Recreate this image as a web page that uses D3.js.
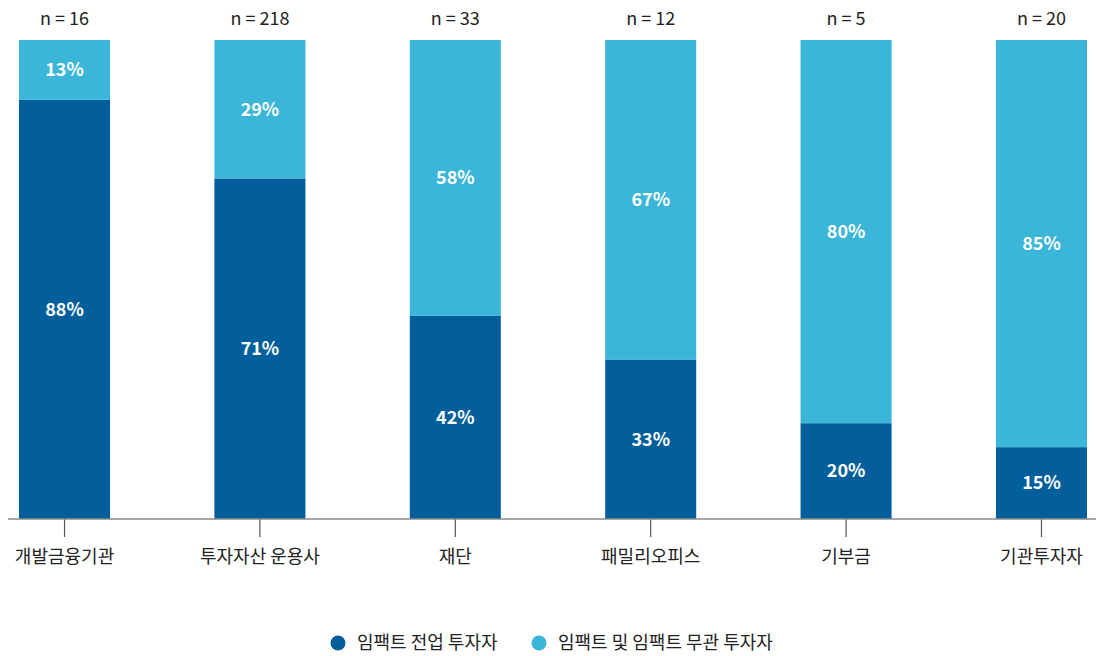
<!DOCTYPE html>
<html><head><meta charset="utf-8">
<script src="https://cdn.jsdelivr.net/npm/d3@7"></script>
<style>body{margin:0;background:#fff}svg{display:block;font-family:"Noto Sans CJK KR","Noto Sans",sans-serif}</style>
</head><body><svg id="c" width="1096" height="656"></svg>
<script>
const categories = ["개발금융기관","투자자산 운용사","재단","패밀리오피스","기부금","기관투자자"];
const sampleSizes = ["n = 16","n = 218","n = 33","n = 12","n = 5","n = 20"];
const dedicated = [87.5, 71.1, 42.4, 33.3, 20, 15];
const nonDedicated = [12.5, 28.9, 57.6, 66.7, 80, 85];
const dedicatedLabels = ["88%","71%","42%","33%","20%","15%"];
const nonDedicatedLabels = ["13%","29%","58%","67%","80%","85%"];
const seriesNames = ["임팩트 전업 투자자","임팩트 및 임팩트 무관 투자자"];
const colors = ["#035f9b","#3bb6d9"];

const svg = d3.select("#c");
const x = d3.scaleBand().domain(categories).range([19,1087]).paddingInner(0.534).paddingOuter(0);
const y = d3.scaleLinear().domain([0,100]).range([519,40]);

const rows = categories.map((c,i)=>({cat:c, d:dedicated[i], nd:nonDedicated[i], dl:dedicatedLabels[i], ndl:nonDedicatedLabels[i], n:sampleSizes[i]}));

const g = svg.append("g");
g.selectAll("rect.d").data(rows).join("rect").attr("class","d")
 .attr("x",r=>x(r.cat)).attr("width",x.bandwidth())
 .attr("y",r=>y(r.d)).attr("height",r=>y(0)-y(r.d)).attr("fill",colors[0]);
g.selectAll("rect.nd").data(rows).join("rect").attr("class","nd")
 .attr("x",r=>x(r.cat)).attr("width",x.bandwidth())
 .attr("y",r=>y(r.d+r.nd)).attr("height",r=>y(r.d)-y(r.d+r.nd)).attr("fill",colors[1]);

g.selectAll("text.dl").data(rows).join("text").attr("class","dl")
 .attr("x",r=>x(r.cat)+x.bandwidth()/2).attr("y",r=>(y(0)+y(r.d))/2)
 .attr("dy","0.35em").attr("text-anchor","middle").attr("fill","#fff")
 .attr("font-size",18).attr("font-weight",600).text(r=>r.dl);
g.selectAll("text.ndl").data(rows).join("text").attr("class","ndl")
 .attr("x",r=>x(r.cat)+x.bandwidth()/2).attr("y",r=>(y(r.d)+y(r.d+r.nd))/2)
 .attr("dy","0.35em").attr("text-anchor","middle").attr("fill","#fff")
 .attr("font-size",18).attr("font-weight",600).text(r=>r.ndl);

g.selectAll("text.n").data(rows).join("text").attr("class","n")
 .attr("x",r=>x(r.cat)+x.bandwidth()/2).attr("y",25)
 .attr("text-anchor","middle").attr("fill","#222").attr("font-size",18).text(r=>r.n);

const ax = svg.append("g").attr("transform","translate(0,519)")
 .call(d3.axisBottom(x).tickSize(18).tickPadding(13).tickSizeOuter(0));
ax.select(".domain").remove();
ax.append("line").attr("x1",8).attr("x2",1096).attr("y1",0).attr("y2",0).attr("stroke","#8a8a8a").attr("stroke-width",1.5);
ax.selectAll(".tick line").attr("stroke","#555").attr("stroke-width",1.2);
ax.selectAll(".tick text").attr("fill","#222").attr("font-size",18)
 .attr("font-family",'"Noto Sans CJK KR","Noto Sans",sans-serif');

const legX = [338, 539];
const lg = svg.append("g");
seriesNames.forEach((s,i)=>{
  lg.append("circle").attr("cx",legX[i]).attr("cy",643).attr("r",7.5).attr("fill",colors[i]);
  lg.append("text").attr("x",legX[i]+19).attr("y",643).attr("dy","0.35em")
   .attr("fill","#222").attr("font-size",18).text(s);
});
</script></body></html>
